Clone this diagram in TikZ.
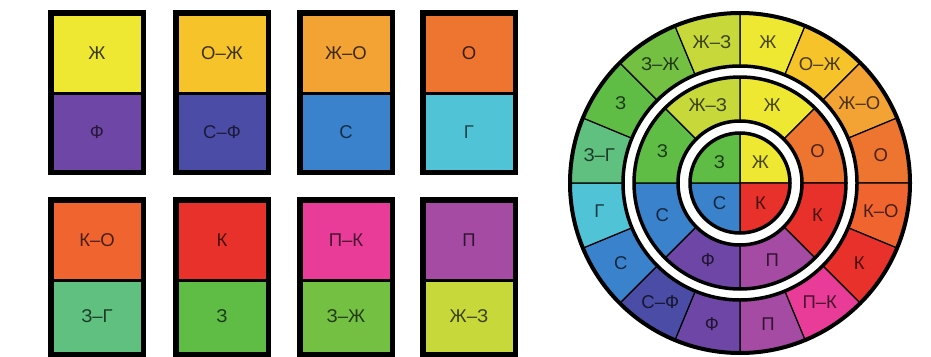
\documentclass[tikz,border=0pt]{standalone}
\usepackage{fontspec}
\setmainfont{Liberation Sans}
\definecolor{cZh}{HTML}{EEE833}
\definecolor{cOZh}{HTML}{F6C32A}
\definecolor{cZhO}{HTML}{F3A333}
\definecolor{cO}{HTML}{EE7530}
\definecolor{cKO}{HTML}{F0652F}
\definecolor{cK}{HTML}{E8312B}
\definecolor{cPK}{HTML}{E83C98}
\definecolor{cP}{HTML}{A54BA3}
\definecolor{cF}{HTML}{6E47A6}
\definecolor{cSF}{HTML}{4B4CA6}
\definecolor{cS}{HTML}{3A82CC}
\definecolor{cG}{HTML}{50C4D6}
\definecolor{cZG}{HTML}{5FC080}
\definecolor{cZ}{HTML}{5FBD45}
\definecolor{cZZh}{HTML}{74C043}
\definecolor{cZhZ}{HTML}{C6D83A}
\begin{document}
\begin{tikzpicture}[x=1pt,y=-1pt,
  lab/.style={font=\fontsize{18.5}{18.5}\selectfont, inner sep=0pt},
  cell/.style={draw=black, line width=3pt, minimum width=90pt, inner sep=0pt, font=\fontsize{18.5}{18.5}\selectfont},
  frame/.style={draw=black, line width=5pt},
  seg/.style={draw=black, line width=1.2pt},
  ring/.style={draw=black, line width=3.5pt}]
\useasboundingbox (0,0) rectangle (931,356);
\fill[white] (0,0) rectangle (931,356);
% ---- left cards ----
\foreach \x/\ct/\lt/\cb/\lb [count=\i] in {97/cZh/Ж/cF/Ф, 222/cOZh/О–Ж/cSF/С–Ф, 346/cZhO/Ж–О/cS/С, 469/cO/О/cG/Г} {
  \node[cell, fill=\ct, text=\ct!25!black, minimum height=79pt] (t\i) at (\x,53.5) {\lt};
  \node[cell, fill=\cb, text=\cb!35!black, minimum height=78pt] (b\i) at (\x,132) {\lb};
  \draw[frame] (t\i.north west) rectangle (b\i.south east);
}
\foreach \x/\ct/\lt/\cb/\lb [count=\i from 5] in {97/cKO/К–О/cZG/З–Г, 222/cK/К/cZ/З, 346/cPK/П–К/cZZh/З–Ж, 469/cP/П/cZhZ/Ж–З} {
  \node[cell, fill=\ct, text=\ct!30!black, minimum height=79pt] (t\i) at (\x,240.5) {\lt};
  \node[cell, fill=\cb, text=\cb!30!black, minimum height=73pt] (b\i) at (\x,316.5) {\lb};
  \draw[frame] (t\i.north west) rectangle (b\i.south east);
}
% ---- colour circle ----
\begin{scope}[shift={(740,183)}, yscale=-1]
\foreach \lb/\col [count=\i from 0] in {Ж/cZh, О–Ж/cOZh, Ж–О/cZhO, О/cO, К–О/cKO, К/cK, П–К/cPK, П/cP, Ф/cF, С–Ф/cSF, С/cS, Г/cG, З–Г/cZG, З/cZ, З–Ж/cZZh, Ж–З/cZhZ} {
  \pgfmathsetmacro\a{90-22.5*\i}
  \pgfmathsetmacro\b{\a-22.5}
  \pgfmathsetmacro\m{\a-11.25}
  \filldraw[seg, fill=\col] (\a:117) -- (\a:170) arc[start angle=\a, end angle=\b, radius=170] -- (\b:117) arc[start angle=\b, end angle=\a, radius=117] -- cycle;
  \node[lab, text=\col!30!black] (o\i) at (\m:143.5) {\lb};
}
\foreach \lb/\col [count=\i from 0] in {Ж/cZh, О/cO, К/cK, П/cP, Ф/cF, С/cS, З/cZ, Ж–З/cZhZ} {
  \pgfmathsetmacro\a{90-45*\i}
  \pgfmathsetmacro\b{\a-45}
  \pgfmathsetmacro\m{\a-22.5}
  \filldraw[seg, fill=\col] (\a:62) -- (\a:106) arc[start angle=\a, end angle=\b, radius=106] -- (\b:62) arc[start angle=\b, end angle=\a, radius=62] -- cycle;
  \node[lab, text=\col!30!black] (m\i) at (\m:84) {\lb};
}
\foreach \lb/\col [count=\i from 0] in {Ж/cZh, К/cK, С/cS, З/cZ} {
  \pgfmathsetmacro\a{90-90*\i}
  \pgfmathsetmacro\b{\a-90}
  \pgfmathsetmacro\m{\a-45}
  \filldraw[seg, fill=\col] (0,0) -- (\a:50) arc[start angle=\a, end angle=\b, radius=50] -- cycle;
  \node[lab, text=\col!30!black] (n\i) at (\m:29) {\lb};
}
\draw[line width=4pt] (0,0) circle[radius=170];
\draw[ring] (0,0) circle[radius=117];
\draw[ring] (0,0) circle[radius=106];
\draw[ring] (0,0) circle[radius=62];
\draw[ring] (0,0) circle[radius=50];
\end{scope}
\end{tikzpicture}
\end{document}
